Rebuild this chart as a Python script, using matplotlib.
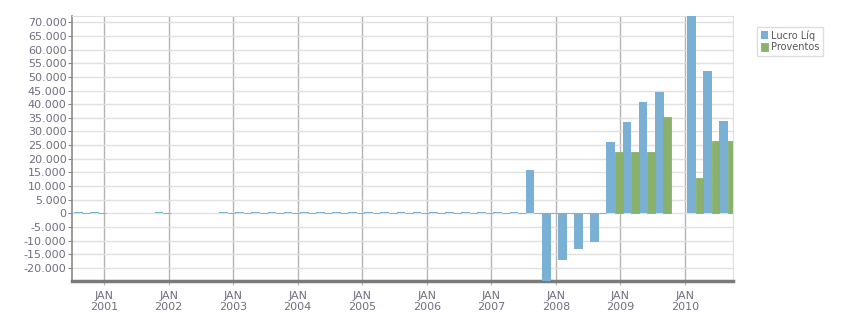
import matplotlib.pyplot as plt
from matplotlib.ticker import FuncFormatter, MultipleLocator

# quarterly results
periods = ["2000Q3", "2000Q4", "2001Q4", "2002Q4",
           "2003Q1", "2003Q2", "2003Q3", "2003Q4",
           "2004Q1", "2004Q2", "2004Q3", "2004Q4",
           "2005Q1", "2005Q2", "2005Q3", "2005Q4",
           "2006Q1", "2006Q2", "2006Q3", "2006Q4",
           "2007Q1", "2007Q2", "2007Q3", "2007Q4",
           "2008Q1", "2008Q2", "2008Q3", "2008Q4",
           "2009Q1", "2009Q2", "2009Q3",
           "2010Q1", "2010Q2", "2010Q3"]
lucro = [650, 650, 650, 650,
         650, 650, 650, 650,
         650, 650, 650, 650,
         650, 650, 650, 650,
         650, 650, 650, 650,
         650, 650, 15900, -26000,
         -17000, -12900, -10400, 26100,
         33400, 40700, 44400,
         72500, 52100, 34000]
proventos = [0, 0, 0, 0,
             0, 0, 0, 0,
             0, 0, 0, 0,
             0, 0, 0, 0,
             0, 0, 0, 0,
             0, 0, 0, 0,
             0, 0, 0, 22450,
             22450, 22450, 35200,
             12900, 26450, 26450]
years = list(range(2001, 2011))

blue = "#79b0d3"
green = "#89b16b"
txt = "#6e6e80"

# slot start of each quarter, in years
x = [int(p[:4]) + (int(p[5]) - 1) / 4 + 0.033 for p in periods]

fig = plt.figure(figsize=(8.51, 3.13), dpi=100)
ax = fig.add_axes([0.0846, 0.1022, 0.7767, 0.8467])

ax.bar(x, lucro, width=0.135, align="edge", color=blue, zorder=3)
ax.bar([v + 0.13 for v in x], proventos, width=0.12, align="edge",
       color=green, edgecolor=green, linewidth=0.6, zorder=3)

ax.set_xlim(2000.504, 2010.743)
ax.set_ylim(-24800, 72300)

ax.yaxis.set_major_locator(MultipleLocator(5000))
ax.yaxis.set_major_formatter(FuncFormatter(lambda v, p: f"{int(v):,}".replace(",", ".")))
ax.set_xticks(years)
ax.set_xticklabels([f"JAN\n{y}" for y in years])

ax.grid(axis="y", color="#e0e0e0", linewidth=1, zorder=0)
ax.grid(axis="x", color="#b4b4b4", linewidth=1, zorder=1)
ax.set_axisbelow(True)

for s in ["top", "right"]:
    ax.spines[s].set_color("#e0e0e0")
ax.spines["left"].set_color("#8a8a8a")
ax.spines["left"].set_linewidth(1.2)
ax.spines["bottom"].set_color("#7a7a7a")
ax.spines["bottom"].set_linewidth(2.5)

ax.tick_params(axis="y", length=3, color="#888888", labelsize=8, labelcolor=txt, pad=1)
ax.tick_params(axis="x", length=3, color="#b4b4b4", labelsize=8, labelcolor=txt, pad=4)

leg = fig.legend(["Lucro Líq", "Proventos"], loc="upper left",
                 bbox_to_anchor=(0.884, 0.93), fontsize=7,
                 handlelength=0.8, handleheight=0.9, handletextpad=0.3,
                 borderpad=0.35, labelspacing=0.15, fancybox=False,
                 edgecolor="#dddddd", framealpha=1)
for t in leg.get_texts():
    t.set_color("#555555")
leg.get_frame().set_linewidth(1)

fig.savefig("out.png", dpi=100)
